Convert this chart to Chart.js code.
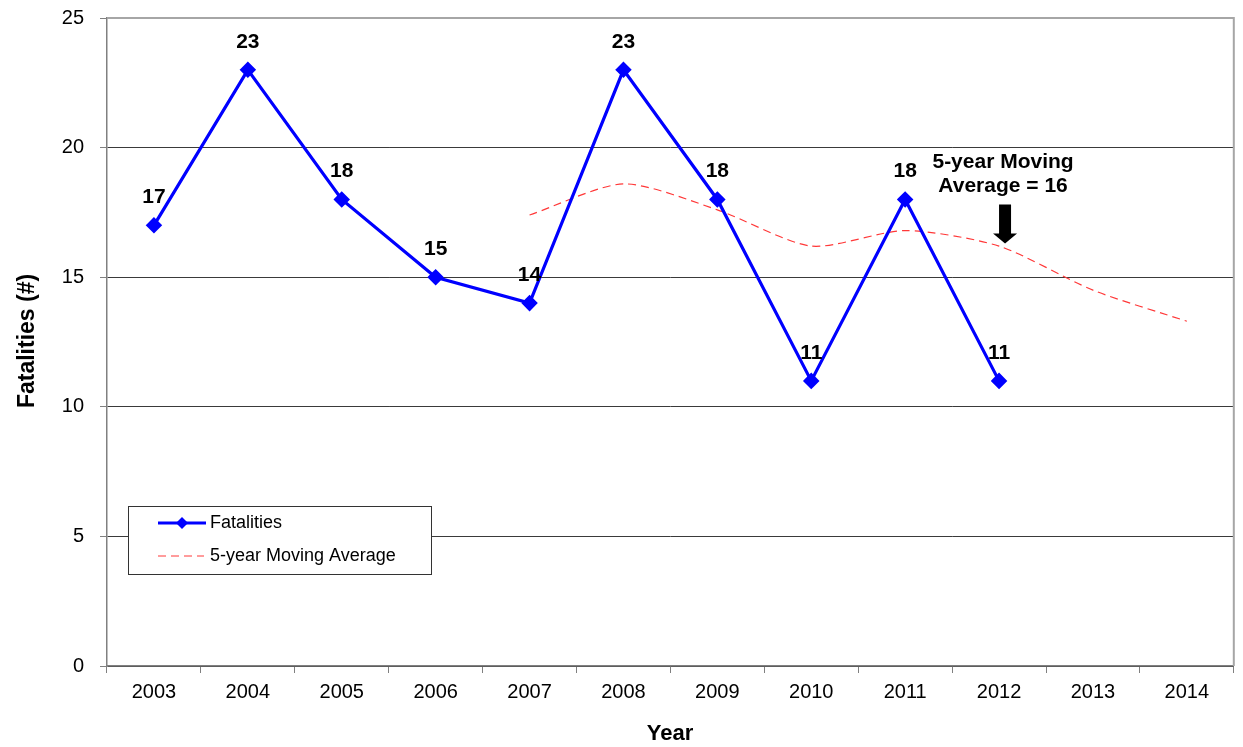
<!DOCTYPE html>
<html>
<head>
<meta charset="utf-8">
<script src="https://cdn.jsdelivr.net/npm/chart.js@4.4.1/dist/chart.umd.min.js"></script>
<style>
  html, body { margin: 0; padding: 0; background: #fff; }
  #wrap { width: 1243px; height: 747px; }
</style>
</head>
<body>
<div id="wrap"><canvas id="c" width="1243" height="747"></canvas></div>
<script>
// Yearly fatalities and the 5-year moving average
const years = ['2003', '2004', '2005', '2006', '2007', '2008', '2009', '2010', '2011', '2012', '2013', '2014'];
const fatalities = [17, 23, 18, 15, 14, 23, 18, 11, 18, 11, null, null];
const movingAverage = [null, null, null, null, 17.4, 18.6, 17.6, 16.2, 16.8, 16.2, 14.5, 13.3];
const yTicks = [0, 5, 10, 15, 20, 25];
const calloutYear = '2012';
const calloutLines = ['5-year Moving', 'Average = 16'];

const FONT = 'Arial, "Liberation Sans", sans-serif';

// Bold value labels above the fatality points
const valueLabels = {
  id: 'valueLabels',
  afterDatasetsDraw(chart) {
    const ctx = chart.ctx;
    const meta = chart.getDatasetMeta(0);
    ctx.save();
    ctx.font = 'bold 21px ' + FONT;
    ctx.fillStyle = '#000';
    ctx.textAlign = 'center';
    ctx.textBaseline = 'middle';
    meta.data.forEach((pt, i) => {
      const v = fatalities[i];
      if (v === null || v === undefined) return;
      ctx.fillText(String(v), pt.x, pt.y - 28);
    });
    ctx.restore();
  }
};

// Callout text and down arrow pointing at the moving average
const callout = {
  id: 'callout',
  afterDatasetsDraw(chart) {
    const ctx = chart.ctx;
    const xs = chart.scales.x, ys = chart.scales.y;
    const cx = xs.getPixelForValue(years.indexOf(calloutYear)) + 6;
    ctx.save();
    ctx.font = 'bold 21px ' + FONT;
    ctx.fillStyle = '#000';
    ctx.textAlign = 'center';
    ctx.textBaseline = 'middle';
    ctx.fillText(calloutLines[0], cx - 2, ys.getPixelForValue(19.45));
    ctx.fillText(calloutLines[1], cx - 2, ys.getPixelForValue(18.5));
    const top = ys.getPixelForValue(17.8);
    const tip = ys.getPixelForValue(16.3);
    const headTop = tip - 10;
    ctx.beginPath();
    ctx.moveTo(cx - 6, top);
    ctx.lineTo(cx + 6, top);
    ctx.lineTo(cx + 6, headTop);
    ctx.lineTo(cx + 12, headTop);
    ctx.lineTo(cx, tip);
    ctx.lineTo(cx - 12, headTop);
    ctx.lineTo(cx - 6, headTop);
    ctx.closePath();
    ctx.fill();
    ctx.restore();
  }
};

// Boxed legend inside the plot area plus the axis titles
const frame = {
  id: 'frame',
  afterDraw(chart) {
    const ctx = chart.ctx;
    const a = chart.chartArea;
    ctx.save();
    // light frame on top and right of the plot
    ctx.strokeStyle = '#a6a6a6';
    ctx.lineWidth = 2;
    ctx.beginPath();
    ctx.moveTo(a.left, a.top);
    ctx.lineTo(a.right, a.top);
    ctx.lineTo(a.right, a.bottom);
    ctx.stroke();

    // legend box
    const lx = 128, ly = 506, lw = 303, lh = 68;
    ctx.fillStyle = '#fff';
    ctx.fillRect(lx, ly, lw, lh);
    ctx.strokeStyle = '#333';
    ctx.lineWidth = 1;
    ctx.strokeRect(lx + 0.5, ly + 0.5, lw, lh);
    const ds = chart.data.datasets;
    // fatalities entry
    const y1 = ly + 17;
    ctx.strokeStyle = ds[0].borderColor;
    ctx.lineWidth = 3;
    ctx.beginPath();
    ctx.moveTo(158, y1);
    ctx.lineTo(206, y1);
    ctx.stroke();
    ctx.fillStyle = ds[0].borderColor;
    ctx.beginPath();
    ctx.moveTo(182, y1 - 6);
    ctx.lineTo(188, y1);
    ctx.lineTo(182, y1 + 6);
    ctx.lineTo(176, y1);
    ctx.closePath();
    ctx.fill();
    // moving average entry
    const y2 = ly + 50;
    ctx.strokeStyle = ds[1].borderColor;
    ctx.lineWidth = 1;
    ctx.setLineDash(ds[1].borderDash);
    ctx.beginPath();
    ctx.moveTo(158, y2);
    ctx.lineTo(204, y2);
    ctx.stroke();
    ctx.setLineDash([]);
    ctx.fillStyle = '#000';
    ctx.font = '18px ' + FONT;
    ctx.textAlign = 'left';
    ctx.textBaseline = 'middle';
    ctx.fillText(ds[0].label, 210, y1);
    ctx.fillText(ds[1].label, 210, y2);

    // axis titles
    ctx.font = 'bold 22px ' + FONT;
    ctx.textAlign = 'center';
    ctx.fillText('Year', 670, 734);
    ctx.translate(28, 341);
    ctx.rotate(-Math.PI / 2);
    ctx.font = 'bold 23px ' + FONT;
    ctx.fillText('Fatalities (#)', 0, 0);
    ctx.restore();
  }
};

new Chart(document.getElementById('c'), {
  type: 'line',
  data: {
    labels: years,
    datasets: [
      {
        label: 'Fatalities',
        data: fatalities,
        borderColor: '#0000ff',
        backgroundColor: '#0000ff',
        borderWidth: 3.2,
        pointStyle: 'rectRot',
        pointRadius: 6,
        pointHoverRadius: 6,
        tension: 0,
        spanGaps: false,
        order: 0
      },
      {
        label: '5-year Moving Average',
        data: movingAverage,
        borderColor: '#ff3838',
        backgroundColor: '#ff3838',
        borderWidth: 1.2,
        borderDash: [8, 5],
        pointRadius: 0,
        pointHoverRadius: 0,
        tension: 0.25,
        order: 1
      }
    ]
  },
  options: {
    responsive: false,
    animation: false,
    events: [],
    layout: { padding: { left: 0, right: 8, top: 18, bottom: 0 } },
    plugins: {
      legend: { display: false },
      tooltip: { enabled: false },
      title: { display: false }
    },
    scales: {
      x: {
        type: 'category',
        offset: true,
        grid: {
          offset: true,
          drawOnChartArea: false,
          drawTicks: true,
          tickLength: 7,
          color: '#808080',
          lineWidth: 1
        },
        border: { display: true, color: '#808080', width: 1.5 },
        ticks: {
          color: '#000',
          font: { family: FONT, size: 20 },
          padding: 7,
          maxRotation: 0,
          autoSkip: false
        },
        afterFit(scale) {
          scale.height = 81;
          scale.paddingLeft = 0;
          scale.paddingRight = 0;
        }
      },
      y: {
        min: 0,
        max: 25,
        afterBuildTicks(scale) { scale.ticks = yTicks.map(v => ({ value: v })); },
        grid: {
          color: (c) => (c.tick && c.tick.value === 25 ? '#a6a6a6' : '#3a3a3a'),
          lineWidth: 1,
          drawTicks: true,
          tickLength: 7,
          tickColor: '#808080'
        },
        border: { display: true, color: '#808080', width: 1.5 },
        ticks: {
          color: '#000',
          font: { family: FONT, size: 20 },
          padding: 16
        },
        afterFit(scale) {
          scale.width = 107;
          scale.paddingTop = 0;
          scale.paddingBottom = 0;
        }
      }
    }
  },
  plugins: [valueLabels, callout, frame]
});
</script>
</body>
</html>
